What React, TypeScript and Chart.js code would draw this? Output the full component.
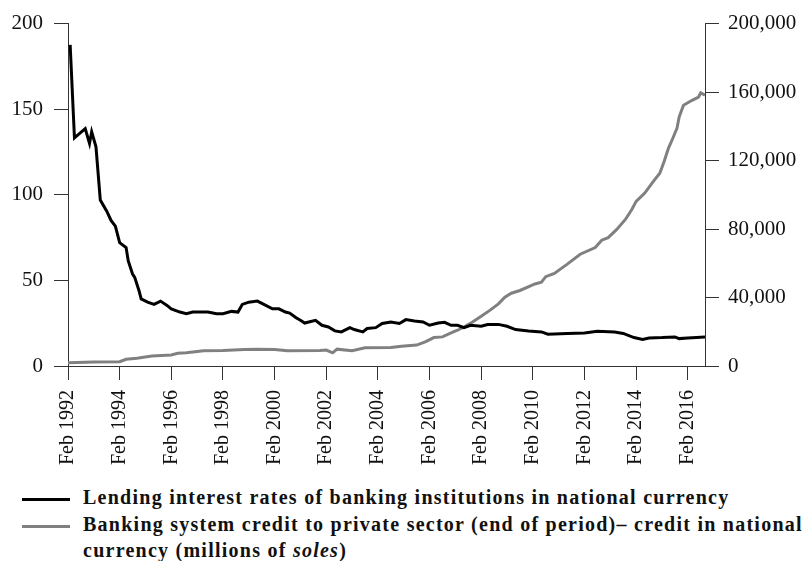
import React, { useEffect, useRef } from "react";
import { Chart, registerables } from "chart.js";

Chart.register(...registerables);

// Month offsets are counted from Feb 1992 (0) to Oct 2016 (296).
const FIRST_MONTH = 0;
const LAST_MONTH = 296;

const tickLabels = [
  "Feb 1992", "Feb 1994", "Feb 1996", "Feb 1998", "Feb 2000", "Feb 2002", "Feb 2004",
  "Feb 2006", "Feb 2008", "Feb 2010", "Feb 2012", "Feb 2014", "Feb 2016",
];
const TICK_STEP_MONTHS = 24;

// Lending interest rates of banking institutions in national currency (%)
const rateMonths = [
  1, 3, 8, 10, 11, 13, 15, 18, 20, 22, 24, 27, 28, 30, 31, 33, 34, 37, 40, 43, 46, 48,
  52, 55, 58, 65, 69, 72, 76, 79, 81, 84, 88, 91, 95, 98, 101, 103, 106, 108, 110, 115,
  118, 121, 124, 127, 131, 133, 137, 139, 143, 146, 150, 154, 157, 161, 165, 168, 172,
  175, 178, 181, 184, 187, 192, 195, 200, 204, 208, 214, 220, 223, 232, 240, 246, 254,
  258, 263, 267, 270, 276, 282, 284, 288, 296,
];
const rateValues = [
  187.6, 133.3, 138.7, 130.0, 136.8, 128.0, 97.0, 90.4, 85.0, 81.7, 72.0, 69.2, 61.4,
  53.7, 51.8, 44.0, 39.2, 37.3, 36.0, 37.9, 35.4, 33.4, 31.5, 30.5, 31.5, 31.5, 30.5,
  30.5, 31.9, 31.5, 36.0, 37.3, 37.9, 36.0, 33.4, 33.4, 31.5, 30.9, 28.2, 26.7, 25.1,
  26.7, 23.8, 22.8, 20.5, 19.9, 22.4, 21.3, 19.9, 21.9, 22.4, 24.8, 25.7, 24.8, 27.1,
  26.3, 25.7, 23.8, 25.1, 25.5, 23.8, 23.8, 22.4, 23.8, 23.2, 24.2, 24.3, 23.2, 21.3,
  20.5, 19.9, 18.6, 19.0, 19.3, 20.3, 19.9, 19.0, 16.6, 15.5, 16.4, 16.6, 17.0, 16.0,
  16.4, 17.0,
];

// Banking system credit to the private sector in national currency (millions of soles)
const creditMonths = [
  0, 12, 24, 27, 32, 39, 48, 51, 55, 63, 72, 82, 88, 96, 102, 117, 120, 123, 125, 132,
  138, 150, 155, 162, 166, 170, 174, 178, 181, 184, 188, 192, 196, 200, 203, 206, 210,
  217, 220, 222, 226, 232, 238, 245, 248, 251, 255, 259, 262, 264, 268, 272, 275, 277,
  279, 281, 283, 284, 286, 290, 293, 294, 296,
];
const creditValues = [
  1900, 2300, 2500, 3900, 4500, 5800, 6400, 7400, 7700, 8900, 9100, 9700, 9850, 9700,
  8900, 9000, 9300, 7700, 9850, 8900, 10600, 10850, 11600, 12200, 14100, 16600, 17000,
  19300, 20900, 22800, 25700, 29000, 32500, 36300, 40200, 42500, 44100, 47900, 48900,
  52200, 54100, 59500, 65300, 69200, 73500, 75000, 79800, 85600, 91400, 96200, 101000,
  107800, 112600, 119400, 127100, 132900, 139000, 145500, 152300, 155200, 157100, 159600,
  158100,
];

const SERIES_RATE = "Lending interest rates of banking institutions in national currency";
const SERIES_CREDIT =
  "Banking system credit to private sector (end of period)– credit in national currency (millions of soles)";

const AXIS_COLOR = "#333333";
const TEXT_COLOR = "#111111";
const SERIF = "'Liberation Serif', 'Times New Roman', serif";

const toPoints = (xs: number[], ys: number[]) => xs.map((x, i) => ({ x, y: ys[i] }));
const withCommas = (n: number) => String(n).replace(/\B(?=(\d{3})+(?!\d))/g, ",");

function CreditChart() {
  const canvasRef = useRef<HTMLCanvasElement | null>(null);

  useEffect(() => {
    if (!canvasRef.current) return;
    const yTickFont = { family: SERIF, size: 21 };
    const xTickFont = { family: SERIF, size: 20 };
    const axisGrid = {
      drawOnChartArea: false,
      drawTicks: true,
      tickLength: 14,
      color: AXIS_COLOR,
      lineWidth: 1,
    };
    const axisBorder = { display: true, color: AXIS_COLOR, width: 1 };

    const chart = new Chart(canvasRef.current, {
      type: "line",
      data: {
        datasets: [
          {
            label: SERIES_RATE,
            data: toPoints(rateMonths, rateValues),
            borderColor: "#000000",
            borderWidth: 3,
            pointRadius: 0,
            tension: 0,
            yAxisID: "yRate",
          },
          {
            label: SERIES_CREDIT,
            data: toPoints(creditMonths, creditValues),
            borderColor: "#808080",
            borderWidth: 3,
            pointRadius: 0,
            tension: 0,
            yAxisID: "yCredit",
          },
        ],
      },
      options: {
        animation: false,
        responsive: true,
        maintainAspectRatio: false,
        layout: { padding: { left: 8, right: 0, top: 8, bottom: 0 } },
        plugins: { legend: { display: false }, tooltip: { enabled: false } },
        scales: {
          x: {
            type: "linear",
            min: FIRST_MONTH,
            max: LAST_MONTH,
            afterBuildTicks: (scale: any) => {
              scale.ticks = tickLabels.map((_, i) => ({ value: i * TICK_STEP_MONTHS }));
            },
            afterFit: (scale: any) => {
              scale.height = 104;
            },
            ticks: {
              autoSkip: false,
              minRotation: 90,
              maxRotation: 90,
              padding: 10,
              color: TEXT_COLOR,
              font: xTickFont,
              callback: (v: any) => tickLabels[Math.round(Number(v) / TICK_STEP_MONTHS)] ?? "",
            },
            grid: axisGrid,
            border: axisBorder,
          },
          yRate: {
            type: "linear",
            position: "left",
            min: 0,
            max: 200,
            afterFit: (scale: any) => {
              scale.width = 60;
            },
            ticks: { stepSize: 50, padding: 11, color: TEXT_COLOR, font: yTickFont },
            grid: axisGrid,
            border: axisBorder,
          },
          yCredit: {
            type: "linear",
            position: "right",
            min: 0,
            max: 200000,
            afterFit: (scale: any) => {
              scale.width = 100;
            },
            ticks: {
              stepSize: 40000,
              padding: 9,
              color: TEXT_COLOR,
              font: yTickFont,
              callback: (v: any) => withCommas(Number(v)),
            },
            grid: axisGrid,
            border: axisBorder,
          },
        },
      },
    } as any);

    return () => chart.destroy();
  }, []);

  return (
    <div style={{ position: "absolute", left: 0, top: 0, width: 805, height: 470 }}>
      <canvas ref={canvasRef} />
    </div>
  );
}

const legendText: React.CSSProperties = {
  position: "absolute",
  left: 83,
  fontFamily: SERIF,
  fontWeight: "bold",
  fontSize: 20,
  letterSpacing: "1.25px",
  lineHeight: "26.5px",
  color: TEXT_COLOR,
  whiteSpace: "nowrap",
};

function Swatch({ color, top }: { color: string; top: number }) {
  return (
    <div
      style={{ position: "absolute", left: 22, top, width: 48, height: 3, background: color }}
    />
  );
}

export default function App() {
  return (
    <div
      style={{
        position: "absolute",
        left: 0,
        top: 0,
        width: 805,
        height: 561,
        background: "#ffffff",
        overflow: "hidden",
      }}
    >
      <CreditChart />
      <Swatch color="#000000" top={498} />
      <div style={{ ...legendText, top: 484 }}>{SERIES_RATE}</div>
      <Swatch color="#808080" top={525} />
      <div style={{ ...legendText, top: 510.5 }}>
        Banking system credit to private sector (end of period)– credit in national
        <br />
        currency (millions of <i>soles</i>)
      </div>
    </div>
  );
}
